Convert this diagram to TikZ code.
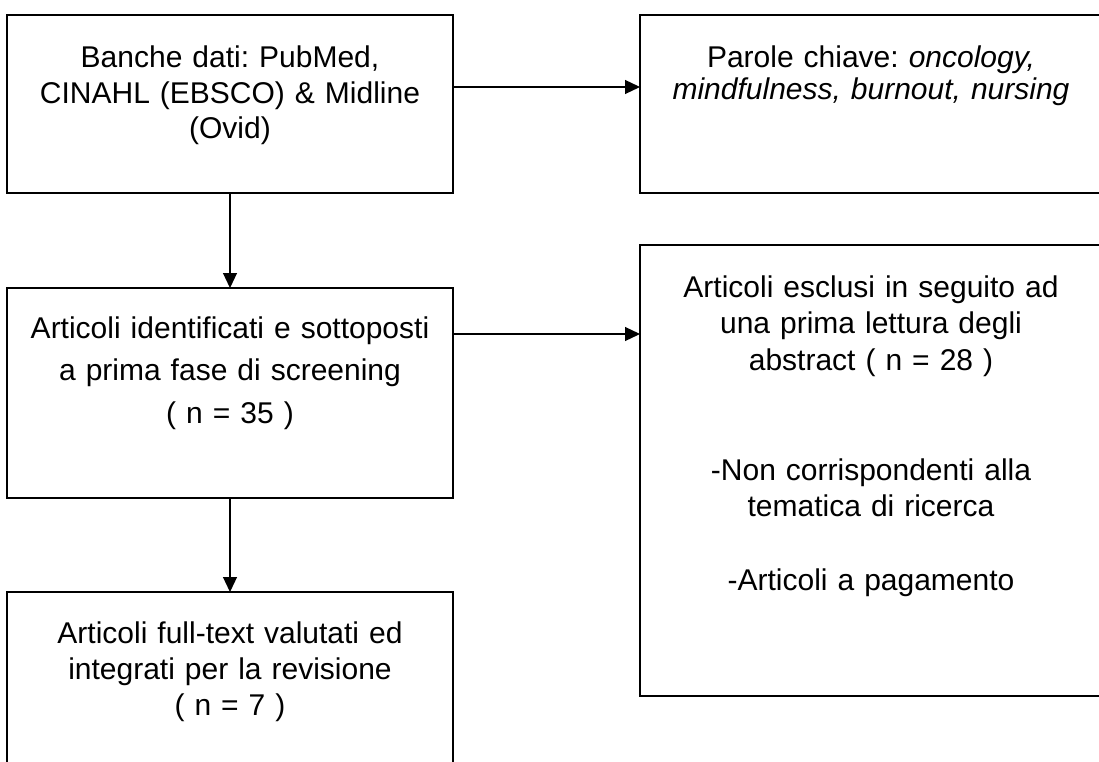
\documentclass[tikz,border=0pt]{standalone}
\usepackage{fontspec}
\setmainfont{Liberation Sans}
\usetikzlibrary{arrows.meta}
\begin{document}
\frenchspacing
\begin{tikzpicture}[x=1pt,y=-1pt,
  box/.style={draw=black, line width=2pt, inner sep=0pt, outer sep=0pt, anchor=north west},
  txt/.style={inner sep=0pt, anchor=base, text width=440pt, align=center},
  arr/.style={line width=1.2pt, -{Triangle[length=15pt,width=14pt]}}]
\useasboundingbox (0,0) rectangle (1099,762);
% boxes
\node[box, minimum width=446pt, minimum height=178pt] (b1) at (7,15) {};
\node[box, minimum width=462pt, minimum height=178pt] (b2) at (640,15) {};
\node[box, minimum width=446pt, minimum height=210pt] (b3) at (7,288) {};
\node[box, minimum width=462pt, minimum height=451pt] (b4) at (640,245) {};
\node[box, minimum width=446pt, minimum height=182pt] (b5) at (7,592) {};
% texts
\node[txt, font={\fontsize{30}{35.5}\selectfont}] (t1) at ([yshift=-53pt]b1.north)
  {Banche dati: PubMed,\\CINAHL (EBSCO) \& Midline\\(Ovid)};
\node[txt, font={\fontsize{30}{32}\selectfont}] (t2) at ([yshift=-53pt]b2.north)
  {Parole chiave: \textit{oncology,}\\\textit{mindfulness, burnout, nursing}};
\node[txt, font={\fontsize{30}{42.5}\selectfont}] (t3) at ([yshift=-50pt]b3.north)
  {Articoli identificati e sottoposti\\a prima fase di screening\\( n = 35 )};
\node[txt, font={\fontsize{30}{36.7}\selectfont}] (t4) at ([yshift=-52pt]b4.north)
  {Articoli esclusi in seguito ad\\una prima lettura degli\\abstract ( n = 28 )\\[73pt]-Non corrispondenti alla\\tematica di ricerca\\[36.7pt]-Articoli a pagamento};
\node[txt, font={\fontsize{30}{36}\selectfont}] (t5) at ([yshift=-51pt]b5.north)
  {Articoli full-text valutati ed\\integrati per la revisione\\( n = 7 )};
% connectors
\coordinate (a1) at (0,87);
\coordinate (a2) at (0,334);
\draw[arr] (b1.east |- a1) -- (b2.west |- a1);
\draw[arr] (b3.east |- a2) -- (b4.west |- a2);
\draw[arr] (b1.south) -- (b3.north);
\draw[arr] (b3.south) -- (b5.north);
\end{tikzpicture}
\end{document}
